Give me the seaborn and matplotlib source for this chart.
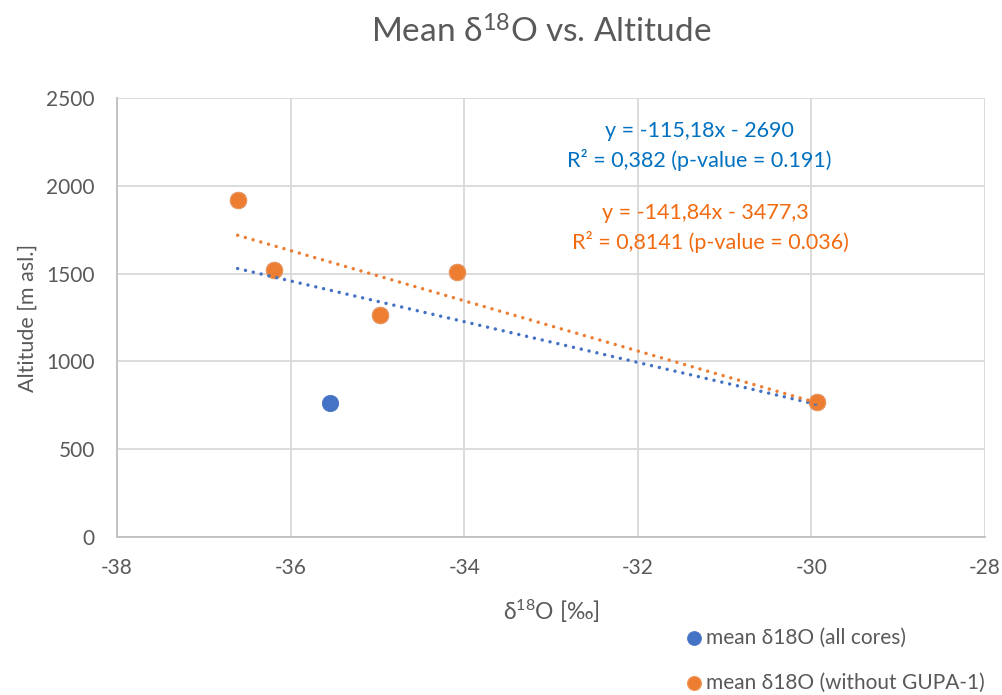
import matplotlib
matplotlib.use("Agg")
import matplotlib.pyplot as plt
import seaborn as sns
import numpy as np
import pandas as pd

# ---- data ----
d18o_all = [-36.61, -36.19, -34.97, -34.08, -29.935, -35.55]
alt_all = [1919, 1520, 1264, 1509, 769, 763]
d18o_sub = [-36.61, -36.19, -34.97, -34.08, -29.935]
alt_sub = [1919, 1520, 1264, 1509, 769]
label_all = "mean δ18O (all cores)"
label_sub = "mean δ18O (without GUPA-1)"
eq_all = ["y = -115,18x - 2690", "R² = 0,382 (p-value = 0.191)"]
eq_sub = ["y = -141,84x - 3477,3", "R² = 0,8141 (p-value = 0.036)"]
x_ticks = [-38, -36, -34, -32, -30, -28]
y_ticks = [0, 500, 1000, 1500, 2000, 2500]

df_all = pd.DataFrame({"x": d18o_all, "y": alt_all})
df_sub = pd.DataFrame({"x": d18o_sub, "y": alt_sub})

sns.set_theme(style="white")
plt.rcParams["font.family"] = ["Lato", "DejaVu Sans"]
plt.rcParams["mathtext.fontset"] = "custom"
plt.rcParams["mathtext.rm"] = "Lato"
plt.rcParams["mathtext.it"] = "Lato"
plt.rcParams["mathtext.bf"] = "Lato"

BLUE = "#4472C4"
ORANGE = "#ED7D31"
GREY = "#595959"

fig = plt.figure(figsize=(10.03, 6.95), dpi=100)
ax = fig.add_axes([117/1003, 1-537/695, (985-117)/1003, (537-98)/695])

sns.scatterplot(data=df_all, x="x", y="y", ax=ax, color=BLUE, s=140,
                edgecolor=BLUE, linewidth=0.5, label=label_all, zorder=3)
sns.scatterplot(data=df_sub, x="x", y="y", ax=ax, color=ORANGE, s=140,
                edgecolor="#F19A5E", linewidth=0.8, label=label_sub, zorder=4)
dots = (0, (0.01, 2.3))
sns.regplot(data=df_all, x="x", y="y", ax=ax, scatter=False, ci=None,
            color=BLUE, line_kws=dict(linestyle=dots, linewidth=2.5,
                                      dash_capstyle="round", zorder=5))
sns.regplot(data=df_sub, x="x", y="y", ax=ax, scatter=False, ci=None,
            color=ORANGE, line_kws=dict(linestyle=dots, linewidth=2.5,
                                        dash_capstyle="round", zorder=5))

ax.set_xlim(-38, -28)
ax.set_ylim(0, 2500)
ax.set_xticks(x_ticks)
ax.set_yticks(y_ticks)
ax.set_xticklabels([str(v) for v in x_ticks])
ax.set_yticklabels([str(v) for v in y_ticks])
ax.tick_params(axis="x", length=0, labelsize=15, colors=GREY, pad=15)
ax.tick_params(axis="y", length=0, labelsize=15, colors=GREY, pad=16)
ax.grid(True, color="#D9D9D9", linewidth=1.3)
ax.set_axisbelow(True)
for side in ["top", "right"]:
    ax.spines[side].set_visible(False)
for side in ["left", "bottom"]:
    ax.spines[side].set_color("#BFBFBF")
    ax.spines[side].set_linewidth(1.3)

ax.set_xlabel(r"δ$^{18}$O [‰]", fontsize=16.5, color=GREY, labelpad=14)
ax.set_ylabel("Altitude [m asl.]", fontsize=15.5, color=GREY, labelpad=6)
fig.text(541/1003, 1-32/695, r"Mean δ$^{18}$O vs. Altitude", fontsize=24,
         color=GREY, ha="center", va="center")

def px(xp, yp):
    return (xp/1003, 1-yp/695)
fig.text(*px(699, 131), eq_all[0], fontsize=15.5, color="#0070C0", ha="center", va="center")
fig.text(*px(699, 160), eq_all[1], fontsize=15.5, color="#0070C0", ha="center", va="center")
fig.text(*px(705, 213), eq_sub[0], fontsize=15.5, color="#F26A10", ha="center", va="center")
fig.text(*px(710, 242), eq_sub[1], fontsize=15.5, color="#F26A10", ha="center", va="center")

if ax.legend_:
    ax.legend_.remove()
handles, labels = ax.get_legend_handles_labels()
fig.legend(handles[:2], labels[:2], loc="center left",
           bbox_to_anchor=(673/1003, 1-660/695), frameon=False, fontsize=15,
           labelcolor=GREY, handletextpad=0.0, labelspacing=1.2,
           markerscale=0.85, borderaxespad=0, handlelength=1.2)

fig.savefig("out.png", dpi=100)
